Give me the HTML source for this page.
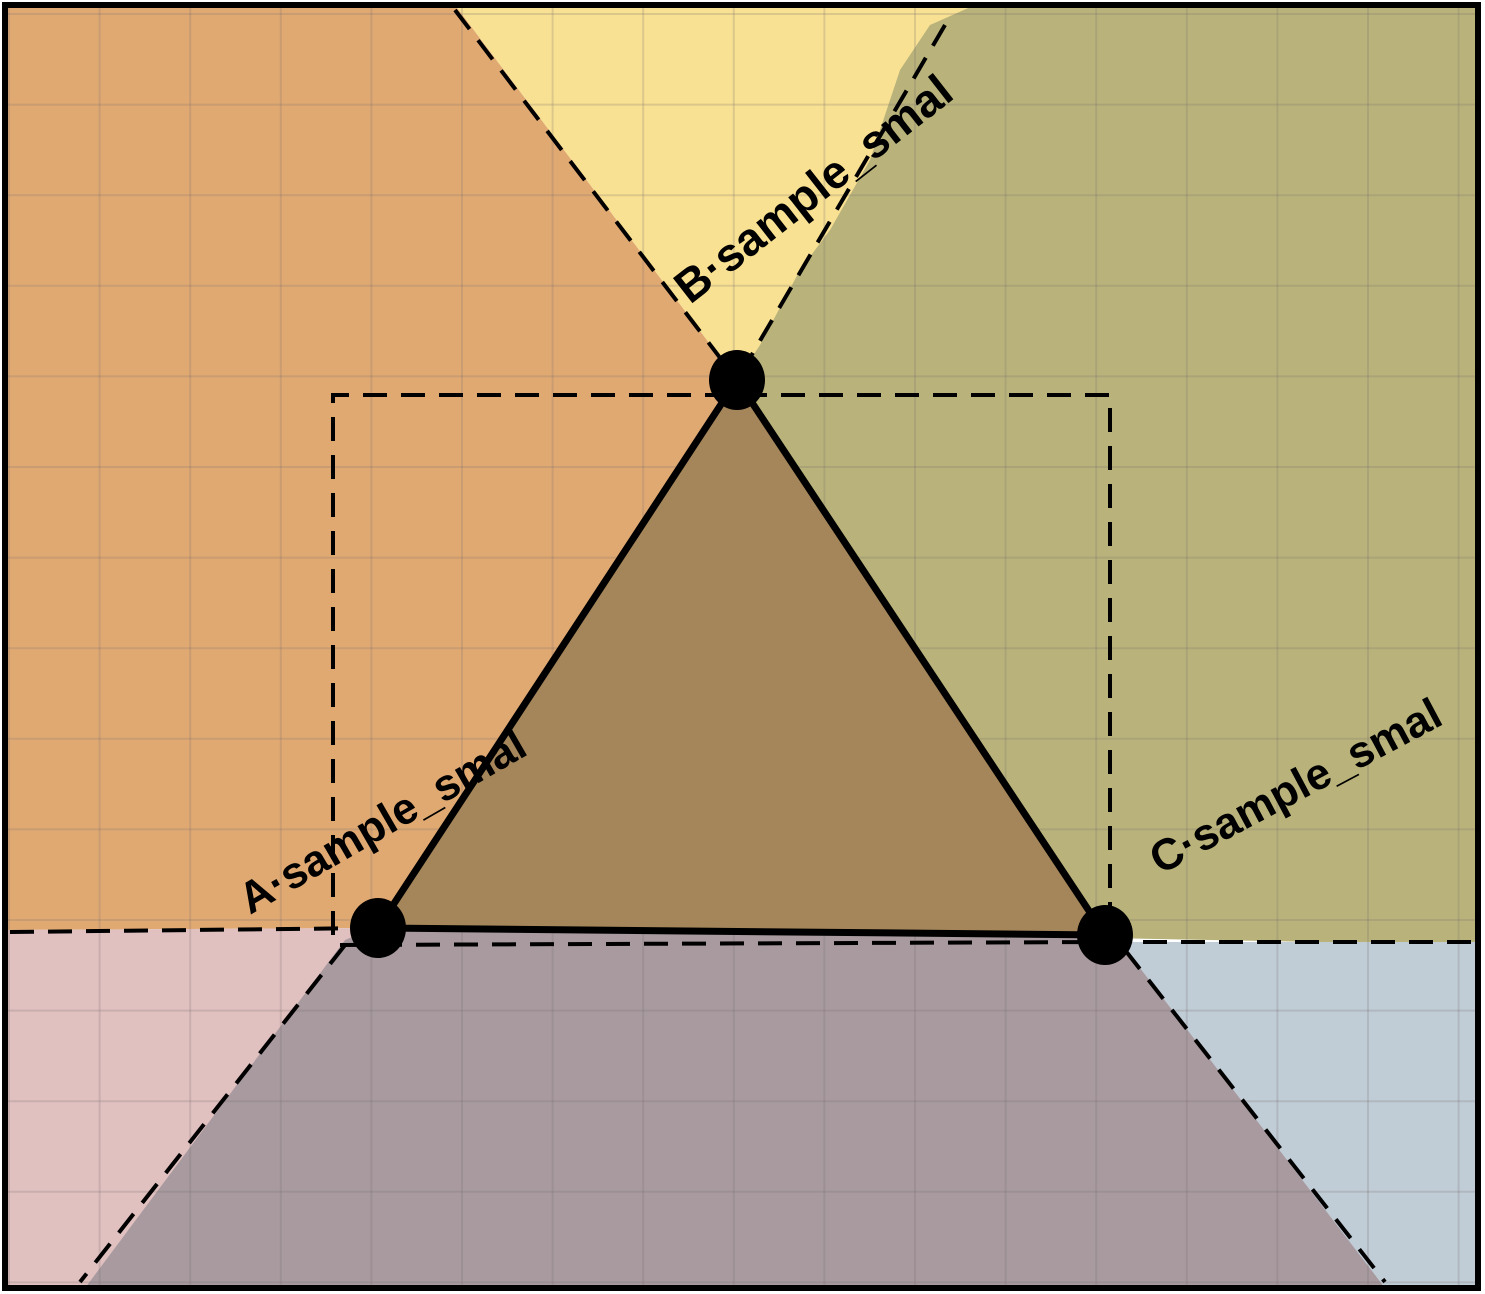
<!DOCTYPE html>
<html><head><meta charset="utf-8"><style>
html,body{margin:0;padding:0;background:#fff;}
svg{display:block;}
text{font-family:"Liberation Sans",sans-serif;font-weight:bold;fill:#000;}
</style></head><body>
<svg id="s" width="1485" height="1294" viewBox="0 0 1485 1294">
<g>
<polygon fill="#E0A972" points="5,5 455,5 737,380 378,928 5,930"/>
<polygon fill="#F9E193" points="455,5 990,5 737,380"/>
<polygon fill="#B9B37B" points="975,5 1478,5 1478,945 1105,938 737,380 760,345 800,270 830,230 870,160 900,70 930,25"/>
<polygon fill="#E1C0C0" points="5,930 378,928 345,945 85,1288 5,1288"/>
<polygon fill="#A89A9F" points="345,940 378,926 1105,934 1128,942 1385,1288 85,1288"/>
<polygon fill="#C0CCD6" points="1120,942 1478,942 1478,1288 1385,1288"/>
</g>
<g id="grid" stroke="rgba(120,110,110,0.22)" stroke-width="2"></g>
<polygon id="tri" fill="#A5865A" stroke="#000" stroke-width="7" stroke-linejoin="round"/>
<g stroke="#000" stroke-width="4" stroke-dasharray="24,14" fill="none">
<line x1="455" y1="10" x2="737" y2="380"/>
<line x1="945" y1="25" x2="737" y2="380"/>
<polyline points="333,935 333,395 1110,395 1110,940"/>
<line x1="10" y1="932" x2="378" y2="928"/>
<line x1="1105" y1="942" x2="1478" y2="942"/>
<line x1="340" y1="945" x2="1105" y2="942"/>
<line x1="345" y1="945" x2="80" y2="1282"/>
<line x1="1125" y1="950" x2="1385" y2="1282"/>
</g>
<g id="pts"></g>
<rect x="5" y="5" width="1473" height="1283" fill="none" stroke="#000" stroke-width="6"/>
</svg>
<script>
const vertexNames = ["A", "B", "C"];
const vertexX = [378, 737, 1105];
const vertexY = [928, 380, 935];
const labelAngle = [-30, -38, -28];
const labelX = [250, 690, 1160];
const labelY = [915, 305, 875];
const labelSize = [44, 46, 44];
const NS = "http://www.w3.org/2000/svg";
const g = document.getElementById("grid");
for (let i = 0; i <= 16; i++) {
  const x = 9 + i * 90.6;
  const l = document.createElementNS(NS, "line");
  
  
  l.setAttribute("x1", x); l.setAttribute("x2", x); l.setAttribute("y1", 5); l.setAttribute("y2", 1288);
  g.appendChild(l);
}
for (let i = 0; i <= 14; i++) {
  const y = 14 + i * 90.6;
  const l = document.createElementNS(NS, "line");
  
  
  l.setAttribute("y1", y); l.setAttribute("y2", y); l.setAttribute("x1", 5); l.setAttribute("x2", 1478);
  g.appendChild(l);
}
document.getElementById("tri").setAttribute("points", vertexX.map((x, i) => x + "," + vertexY[i]).join(" "));
const p = document.getElementById("pts");
vertexNames.forEach((n, i) => {
  const c = document.createElementNS(NS, "ellipse");
  
  
  c.setAttribute("cx", vertexX[i]); c.setAttribute("cy", vertexY[i]);
  c.setAttribute("rx", 28); c.setAttribute("ry", 30);
  p.appendChild(c);
  const t = document.createElementNS(NS, "text");
  
  
  t.setAttribute("x", labelX[i]); t.setAttribute("y", labelY[i]);
  t.setAttribute("font-size", labelSize[i]);
  t.setAttribute("transform", "rotate(" + labelAngle[i] + " " + labelX[i] + " " + labelY[i] + ")");
  t.textContent = n + "·sample_smal";
  p.appendChild(t);
});
</script>
</body></html>
